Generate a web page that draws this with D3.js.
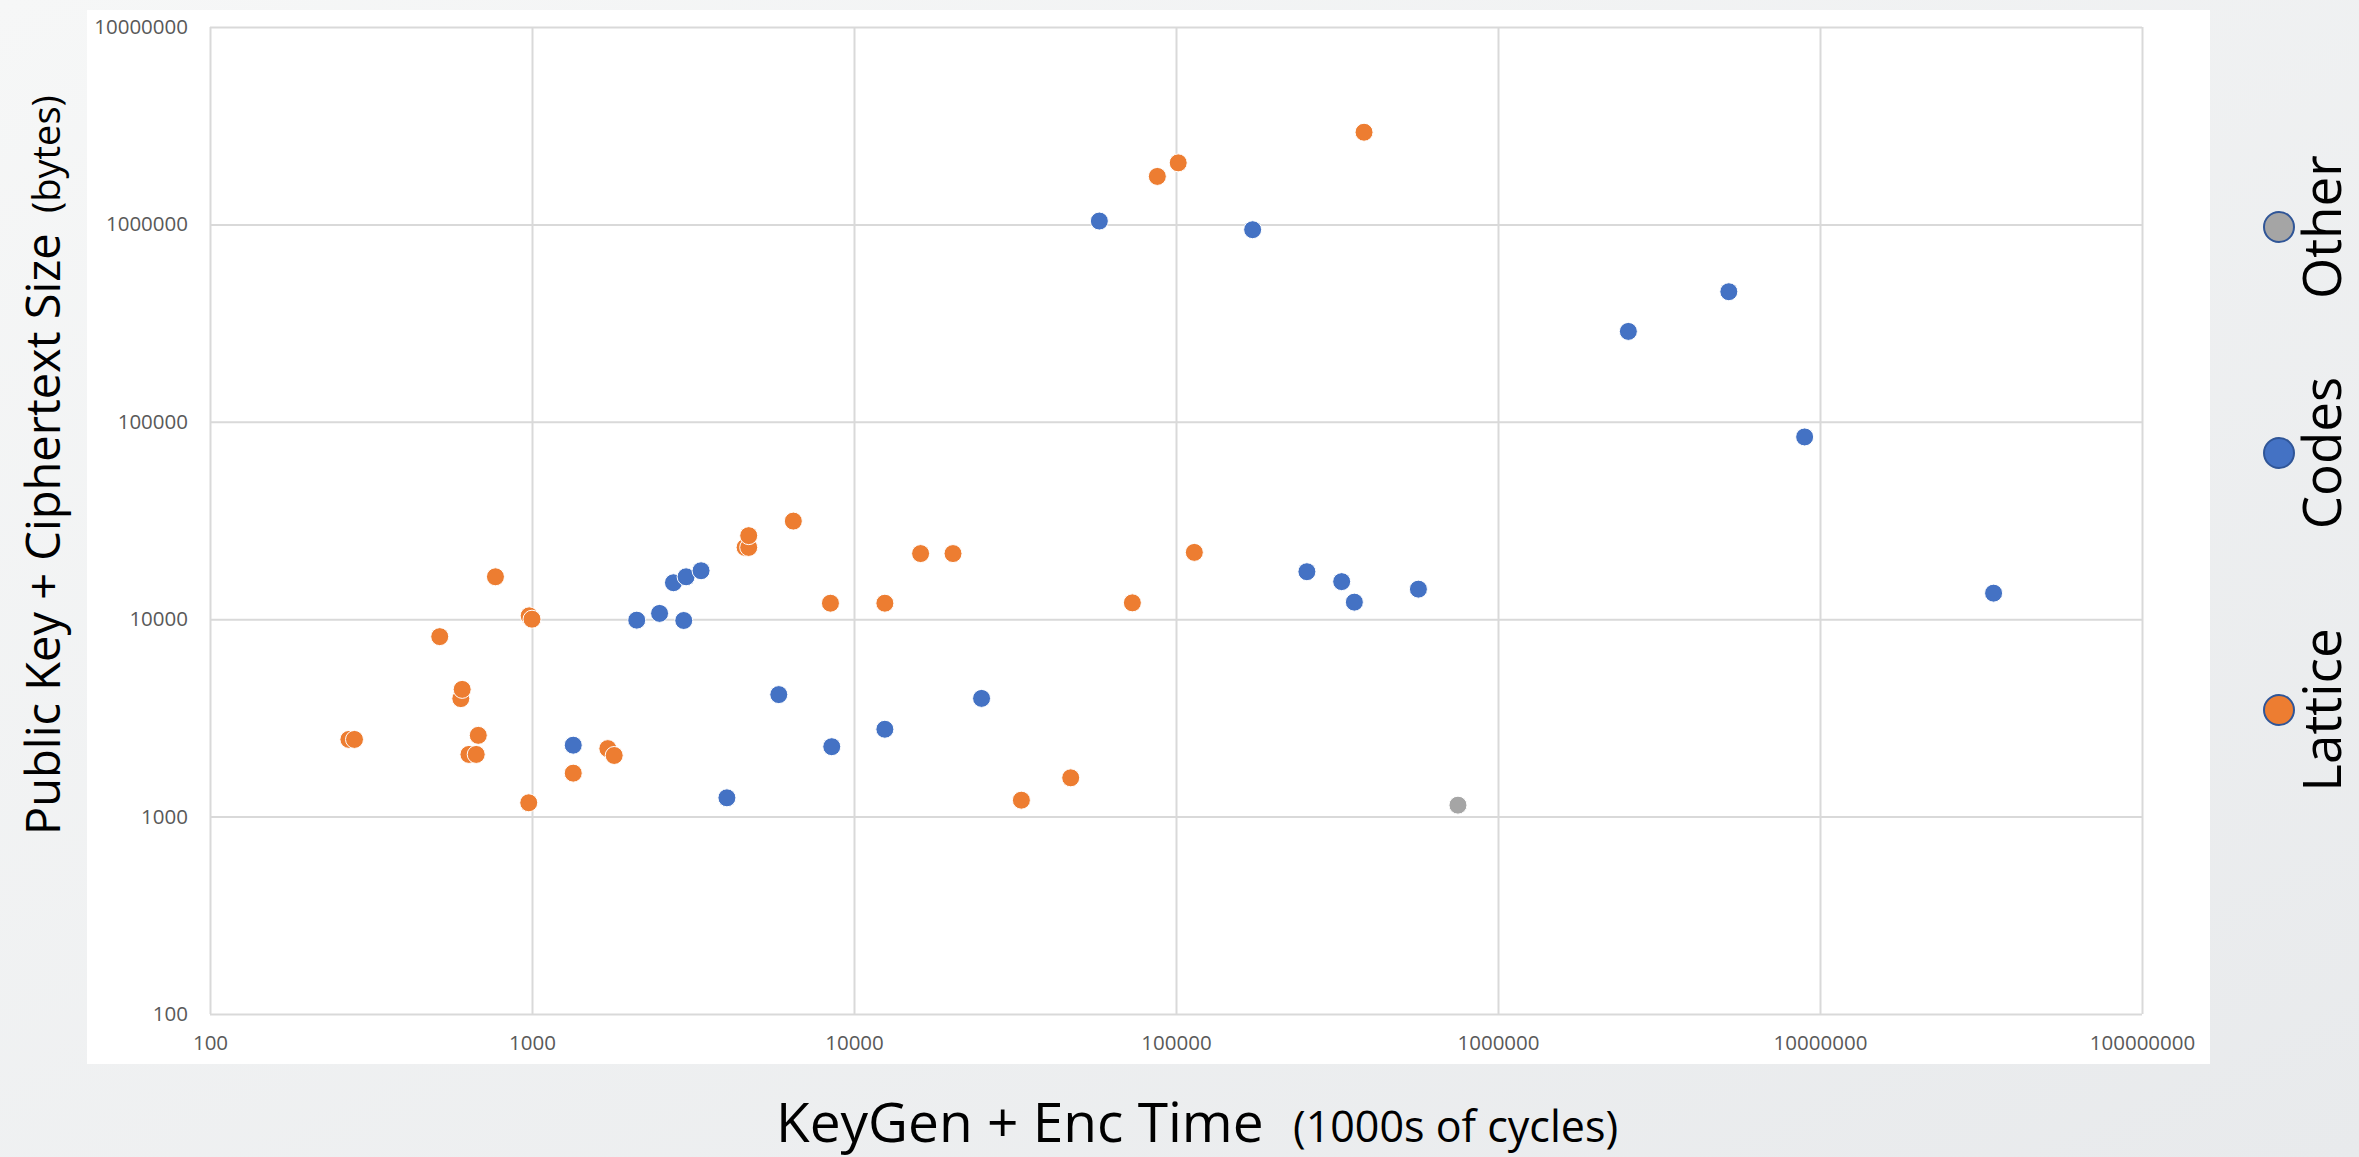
<!DOCTYPE html>
<html>
<head>
<meta charset="utf-8">
<script src="https://cdnjs.cloudflare.com/ajax/libs/d3/7.8.5/d3.min.js"></script>
<style>
  body { margin: 0; overflow: hidden; }
  text { font-family: "Open Sans", "DejaVu Sans", sans-serif; }
</style>
</head>
<body>
<script>

// Values (x = 1000s of cycles, y = bytes)
var latticeX = [270, 281, 517, 601, 607, 637, 671, 681, 770, 977, 980, 1000,
                1343, 1720, 1800, 4590, 4710, 4710, 6480, 8450, 12470, 16100,
                20300, 33100, 47100, 73200, 87500, 101600, 114000, 383700];
var latticeY = [2460, 2460, 8160, 3960, 4410, 2065, 2065, 2580, 16400, 1175, 10400, 10000,
                1660, 2210, 2040, 23100, 23100, 26500, 31400, 12050, 12050, 21500,
                21500, 1211, 1572, 12100, 1750000, 2050000, 21800, 2930000];

var codesX = [1343, 2115, 2490, 2750, 2960, 3010, 3350, 4030, 5840, 8530, 12470,
              24900, 57800, 173000, 255000, 327000, 358000, 566000, 2540000,
              5210000, 8960000, 34600000];
var codesY = [2300, 9890, 10700, 15300, 9850, 16400, 17600, 1245, 4150, 2260, 2770,
              3970, 1040000, 940000, 17400, 15500, 12200, 14200, 287000,
              456000, 83800, 13550];

var otherX = [751000];
var otherY = [1143];

var seriesNames = ["Lattice", "Codes", "Other"];
var xTicks = [100, 1000, 10000, 100000, 1000000, 10000000, 100000000];
var yTicks = [100, 1000, 10000, 100000, 1000000, 10000000];

var colorMap = {
  "Lattice": "#ed7d31",
  "Codes": "#4472c4",
  "Other": "#a5a5a5"
};

var width = 2359,
    height = 1157;

var svg = d3.select("body").append("svg")
    .attr("width", width)
    .attr("height", height);

// slide background + white chart panel
var grad = svg.append("defs").append("linearGradient")
    .attr("id", "bg")
    .attr("x1", "0%").attr("y1", "0%")
    .attr("x2", "100%").attr("y2", "100%");
grad.append("stop").attr("offset", "0%").attr("stop-color", "#f6f7f7");
grad.append("stop").attr("offset", "100%").attr("stop-color", "#e8eaec");

svg.append("rect")
    .attr("width", width)
    .attr("height", height)
    .attr("fill", "url(#bg)");

svg.append("rect")
    .attr("x", 87).attr("y", 10)
    .attr("width", 2123).attr("height", 1054)
    .attr("fill", "#fff");

var x = d3.scaleLog().domain([100, 100000000]).range([210, 2142]);
var y = d3.scaleLog().domain([100, 10000000]).range([1014, 27]);

// axes with the gridlines as long ticks
var xAxis = svg.append("g")
    .attr("transform", "translate(0," + y(100) + ")")
    .call(d3.axisBottom(x)
      .tickValues(xTicks)
      .tickFormat(d3.format("d"))
      .tickSize(-(y(100) - y(10000000)))
      .tickPadding(21));

var yAxis = svg.append("g")
    .attr("transform", "translate(" + x(100) + ",0)")
    .call(d3.axisLeft(y)
      .tickValues(yTicks)
      .tickFormat(d3.format("d"))
      .tickSize(-(x(100000000) - x(100)))
      .tickPadding(22));

[xAxis, yAxis].forEach(function(ax) {
  ax.select(".domain").remove();
  ax.selectAll(".tick line")
      .attr("stroke", "#d9d9d9")
      .attr("stroke-width", 2);
  ax.selectAll(".tick text")
      .attr("fill", "#595959")
      .style("font-size", "20.5px");
});

// points
var series = [
  {name: "Lattice", xs: latticeX, ys: latticeY},
  {name: "Codes", xs: codesX, ys: codesY},
  {name: "Other", xs: otherX, ys: otherY}
];

series.forEach(function(s) {
  var pts = s.xs.map(function(v, i) { return [v, s.ys[i]]; });
  svg.append("g").selectAll("circle")
      .data(pts)
    .join("circle")
      .attr("cx", function(d) { return x(d[0]); })
      .attr("cy", function(d) { return y(d[1]); })
      .attr("r", 9)
      .attr("fill", colorMap[s.name])
      .attr("stroke", "#fff")
      .attr("stroke-width", 1);
});

// axis titles
svg.append("text")
    .attr("x", 776)
    .attr("y", 1142)
    .style("font-size", "55px")
    .attr("fill", "#000")
    .text("KeyGen + Enc Time");

svg.append("text")
    .attr("x", 1293)
    .attr("y", 1142)
    .style("font-size", "43px")
    .attr("fill", "#000")
    .text("(1000s of cycles)");

svg.append("text")
    .attr("transform", "translate(60,835) rotate(-90)")
    .style("font-size", "47px")
    .attr("fill", "#000")
    .text("Public Key + Ciphertext Size");

svg.append("text")
    .attr("transform", "translate(60,213) rotate(-90)")
    .style("font-size", "38px")
    .attr("fill", "#000")
    .text("(bytes)");

// legend, rotated like the original
var legendY = d3.scaleOrdinal().domain(seriesNames).range([710, 453, 227]);

var legend = svg.append("g").selectAll("g")
    .data(seriesNames)
  .join("g")
    .attr("transform", function(d) { return "translate(0," + legendY(d) + ")"; });

legend.append("circle")
    .attr("cx", 2279)
    .attr("r", 15)
    .attr("fill", function(d) { return colorMap[d]; })
    .attr("stroke", "#2f5597")
    .attr("stroke-width", 2);

legend.append("text")
    .attr("transform", "translate(2341,0) rotate(-90)")
    .attr("text-anchor", "middle")
    .style("font-size", "53px")
    .attr("fill", "#000")
    .text(function(d) { return d; });

</script>
</body>
</html>
